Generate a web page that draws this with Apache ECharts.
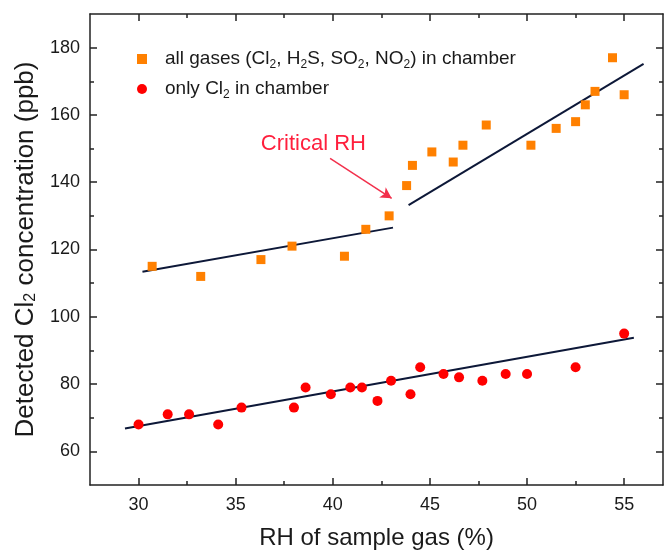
<!DOCTYPE html>
<html>
<head>
<meta charset="utf-8">
<script src="https://cdn.jsdelivr.net/npm/echarts@6/dist/echarts.min.js"></script>
<style>
html,body{margin:0;padding:0;background:#fff;}
#chart{width:665px;height:555px;}
</style>
</head>
<body>
<div id="chart"></div>
<script>
// ---- data ----
var allGasesRH   = [30.7, 33.2, 36.3, 37.9, 40.6, 41.7, 42.9, 43.8, 44.1, 45.1, 46.2, 46.7, 47.9, 50.2, 51.5, 52.5, 53.0, 53.5, 54.4, 55.0];
var allGasesCl2  = [115, 112, 117, 121, 118, 126, 130, 139, 145, 149, 146, 151, 157, 151, 156, 158, 163, 167, 177, 166];
var onlyCl2RH    = [30.0, 31.5, 32.6, 34.1, 35.3, 38.0, 38.6, 39.9, 40.9, 41.5, 42.3, 43.0, 44.0, 44.5, 45.7, 46.5, 47.7, 48.9, 50.0, 52.5, 55.0];
var onlyCl2Conc  = [68, 71, 71, 68, 73, 73, 79, 77, 79, 79, 75, 81, 77, 85, 83, 82, 81, 83, 83, 85, 95];
// fit lines (end points)
var fitLowRH  = [30.2, 43.1];   var fitLowVal  = [113.4, 126.5];
var fitHighRH = [43.9, 56.0];   var fitHighVal = [133.2, 175.2];
var fitRedRH  = [29.3, 55.5];   var fitRedVal  = [66.8, 93.8];
// annotation
var arrowRH = [39.86, 43.03];   var arrowVal = [147.1, 135.2];
var noteRH = 39.0;              var noteVal = 151.3;
var noteText = 'Critical RH';
// ticks
var xMajor = [30, 35, 40, 45, 50, 55];
var xMinor = [32.5, 37.5, 42.5, 47.5, 52.5];
var yMajor = [60, 80, 100, 120, 140, 160, 180];
var yMinor = [70, 90, 110, 130, 150, 170];

function pairs(a, b){ return a.map(function(v, i){ return [v, b[i]]; }); }

var FONT = '"Liberation Sans", Arial, sans-serif';
var TXT = '#1a1a1a';
var AX = '#222';
var XMIN = 27.5, XMAX = 57, YMIN = 50, YMAX = 190;

function xAx(pos, major, withLabel, showLine){
  var o = {
    type: 'value', position: pos, min: XMIN, max: XMAX,
    splitLine: {show: false},
    axisLine: {show: showLine, onZero: false, lineStyle: {color: AX, width: 1.5}},
    axisTick: {show: true, inside: true, length: major ? 7 : 4, customValues: major ? xMajor : xMinor, lineStyle: {color: AX, width: 1.5}},
    axisLabel: withLabel ? {show: true, customValues: xMajor, margin: 11, fontSize: 18, color: TXT, fontFamily: FONT} : {show: false}
  };
  if (withLabel) {
    o.name = 'RH of sample gas (%)';
    o.nameLocation = 'middle';
    o.nameGap = 41;
    o.nameTextStyle = {fontSize: 24, color: TXT, fontFamily: FONT};
  }
  return o;
}
function yAx(pos, major, withLabel, showLine){
  var o = {
    type: 'value', position: pos, min: YMIN, max: YMAX,
    splitLine: {show: false},
    axisLine: {show: showLine, onZero: false, lineStyle: {color: AX, width: 1.5}},
    axisTick: {show: true, inside: true, length: major ? 7 : 4, customValues: major ? yMajor : yMinor, lineStyle: {color: AX, width: 1.5}},
    axisLabel: withLabel ? {show: true, customValues: yMajor, margin: 10, fontSize: 18, color: TXT, fontFamily: FONT} : {show: false}
  };
  if (withLabel) {
    o.name = 'Detected Cl{sub|2} concentration (ppb)';
    o.nameLocation = 'middle';
    o.nameGap = 51;
    o.nameTextStyle = {fontSize: 26, color: TXT, fontFamily: FONT,
      rich: {sub: {fontSize: 16, color: TXT, fontFamily: FONT, verticalAlign: 'bottom', padding: [11, 0, 0, 0]}}};
  }
  return o;
}

var chart = echarts.init(document.getElementById('chart'));
var lineStyleFit = {color: '#0d1838', width: 2};

chart.setOption({
  animation: false,
  grid: {left: 90, right: 2, top: 14, bottom: 69, containLabel: false},
  xAxis: [xAx('bottom', true, true, true), xAx('bottom', false, false, false), xAx('top', true, false, true), xAx('top', false, false, false)],
  yAxis: [yAx('left', true, true, true), yAx('left', false, false, false), yAx('right', true, false, true), yAx('right', false, false, false)],
  legend: {
    data: ['all', 'only'],
    orient: 'vertical', left: 132, top: 42,
    itemWidth: 10, itemHeight: 10, itemGap: 6,
    formatter: function(n){
      return n === 'all'
        ? '{g|}all gases (Cl{s|2}, H{s|2}S, SO{s|2}, NO{s|2}) in chamber'
        : '{g|}only Cl{s|2} in chamber';
    },
    textStyle: {fontSize: 19, color: TXT, fontFamily: FONT, lineHeight: 24,
      rich: {
        g: {width: 13, lineHeight: 24},
        s: {fontSize: 12, color: TXT, fontFamily: FONT, verticalAlign: 'bottom', lineHeight: 24, padding: [11, 0, 0, 0]}
      }}
  },
  series: [
    {name: 'all', type: 'scatter', symbol: 'rect', symbolSize: 9, itemStyle: {color: '#ff8000', opacity: 1},
     data: pairs(allGasesRH, allGasesCl2), z: 3,
     markPoint: {symbol: 'circle', symbolSize: 0, silent: true,
       data: [{coord: [noteRH, noteVal], label: {show: true, formatter: noteText, color: '#ff1f3d', fontSize: 22, fontFamily: FONT, position: 'inside'}}]},
     markLine: {silent: true, symbol: ['none', 'arrow'], symbolSize: [9, 11], label: {show: false},
       lineStyle: {color: '#f2304c', width: 1.5, type: 'solid'},
       data: [[{coord: [arrowRH[0], arrowVal[0]]}, {coord: [arrowRH[1], arrowVal[1]]}]]}
    },
    {name: 'only', type: 'scatter', symbol: 'circle', symbolSize: 10, itemStyle: {color: '#ff0000', opacity: 1},
     data: pairs(onlyCl2RH, onlyCl2Conc), z: 3},
    {name: 'fit1', type: 'line', data: pairs(fitLowRH, fitLowVal), showSymbol: false, lineStyle: lineStyleFit, z: 2},
    {name: 'fit2', type: 'line', data: pairs(fitHighRH, fitHighVal), showSymbol: false, lineStyle: lineStyleFit, z: 2},
    {name: 'fit3', type: 'line', data: pairs(fitRedRH, fitRedVal), showSymbol: false, lineStyle: lineStyleFit, z: 2}
  ]
});
</script>
</body>
</html>
